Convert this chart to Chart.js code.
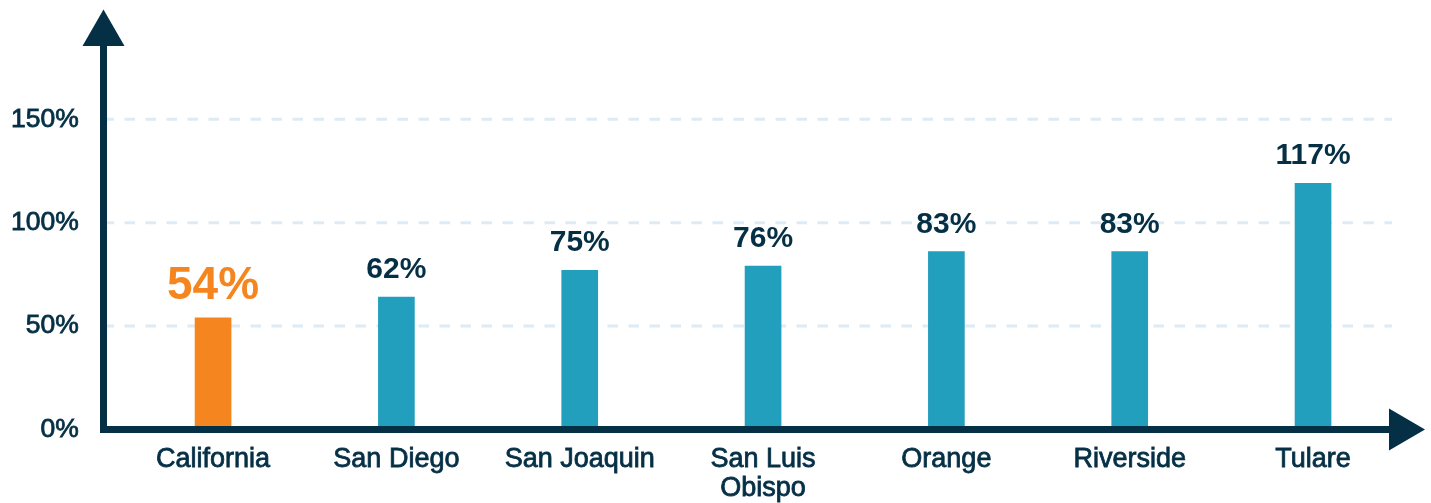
<!DOCTYPE html>
<html>
<head>
<meta charset="utf-8">
<script src="https://cdn.jsdelivr.net/npm/chart.js@4"></script>
<style>
  html, body { margin: 0; padding: 0; background: #ffffff; }
  canvas { display: block; }
</style>
</head>
<body>
<canvas id="c" width="1431" height="503"></canvas>
<script>
// ---- data ----
const categories = ['California', 'San Diego', 'San Joaquin', ['San Luis', 'Obispo'], 'Orange', 'Riverside', 'Tulare'];
// bar heights as drawn in the reference (percent)
const barValues = [54, 64, 77, 79, 86, 86, 119];
// value labels as printed above the bars
const valueLabels = ['54%', '62%', '75%', '76%', '83%', '83%', '117%'];
const yTicks = [0, 50, 100, 150];

const NAVY = '#052f45';
const TEAL = '#229fbd';
const ORANGE = '#f5861f';
const GRID = '#deebf5';
const FONT = '"Liberation Sans", Arial, Helvetica, sans-serif';

const barColors = barValues.map((v, i) => i === 0 ? ORANGE : TEAL);

const decor = {
  id: 'decor',
  beforeDatasetsDraw(chart) {
    const ctx = chart.ctx;
    const y = chart.scales.y;
    ctx.save();
    ctx.strokeStyle = GRID;
    ctx.lineWidth = 3;
    ctx.setLineDash([10.5, 10.5]);
    yTicks.forEach(t => {
      if (t === 0) return;
      const py = y.getPixelForValue(t);
      ctx.beginPath();
      ctx.moveTo(103.5, py);
      ctx.lineTo(1392, py);
      ctx.stroke();
    });
    ctx.restore();
  },
  afterDatasetsDraw(chart) {
    const ctx = chart.ctx;
    const y = chart.scales.y;
    const y0 = y.getPixelForValue(0);
    const ax = 103.5;
    ctx.save();
    // axes
    ctx.fillStyle = NAVY;
    ctx.fillRect(ax - 3.5, 45, 7, (y0 + 3.5) - 45);
    ctx.fillRect(ax - 3.5, y0 - 3.5, 1390 - (ax - 3.5), 7);
    // up arrow
    ctx.beginPath();
    ctx.moveTo(ax, 9.5);
    ctx.lineTo(ax + 21, 46);
    ctx.lineTo(ax - 21, 46);
    ctx.closePath();
    ctx.fill();
    // right arrow
    ctx.beginPath();
    ctx.moveTo(1425, y0);
    ctx.lineTo(1389, y0 - 21);
    ctx.lineTo(1389, y0 + 21);
    ctx.closePath();
    ctx.fill();
    // value labels
    const meta = chart.getDatasetMeta(0);
    ctx.textAlign = 'center';
    ctx.textBaseline = 'alphabetic';
    meta.data.forEach((bar, i) => {
      if (i === 0) {
        ctx.fillStyle = ORANGE;
        ctx.font = 'bold 46px ' + FONT;
      } else {
        ctx.fillStyle = NAVY;
        ctx.font = 'bold 30px ' + FONT;
      }
      ctx.fillText(valueLabels[i], bar.x, bar.y - 19);
    });
    ctx.restore();
  }
};

new Chart(document.getElementById('c'), {
  type: 'bar',
  data: {
    labels: categories,
    datasets: [{
      data: barValues,
      backgroundColor: barColors,
      borderWidth: 0,
      barThickness: 36
    }]
  },
  options: {
    responsive: false,
    animation: false,
    layout: { padding: { top: 119.3, right: 26.3, bottom: 0, left: 0 } },
    plugins: {
      legend: { display: false },
      tooltip: { enabled: false }
    },
    scales: {
      x: {
        grid: { display: false, drawTicks: false },
        border: { display: false },
        ticks: {
          color: NAVY,
          textStrokeColor: NAVY,
          textStrokeWidth: 0.8,
          font: { family: FONT, size: 27, lineHeight: 1.06 },
          padding: 16,
          maxRotation: 0,
          autoSkip: false
        },
        afterFit(scale) { scale.height = 73.5; }
      },
      y: {
        min: 0,
        max: 150,
        grid: { display: false, drawTicks: false },
        border: { display: false },
        ticks: {
          stepSize: 50,
          color: NAVY,
          textStrokeColor: NAVY,
          textStrokeWidth: 0.8,
          font: { family: FONT, size: 26.5 },
          padding: 42.7,
          callback: v => v + '%'
        },
        afterFit(scale) { scale.width = 121.4; }
      }
    }
  },
  plugins: [decor]
});
</script>
</body>
</html>
